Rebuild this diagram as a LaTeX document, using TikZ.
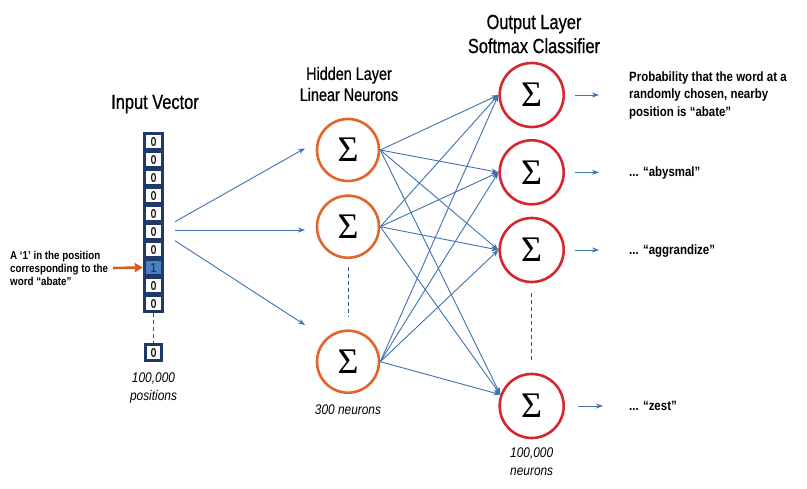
\documentclass[tikz,border=0pt]{standalone}
\usepackage{fontspec}
\setmainfont{Liberation Sans}[FakeStretch=0.85]
\newfontfamily\titlefont{Liberation Sans}[FakeStretch=0.8, FakeBold=0.6]
\newfontfamily\sigfont{Liberation Serif}
\usetikzlibrary{arrows.meta}
\definecolor{navy}{HTML}{1F3A68}
\definecolor{cellblue}{HTML}{4A7FC0}
\definecolor{horange}{HTML}{E2652B}
\definecolor{ored}{HTML}{D7262F}
\definecolor{lblue}{HTML}{3F72AF}
\definecolor{dblue}{HTML}{2F5597}
\definecolor{aorange}{HTML}{E05A1E}
\tikzset{
  cell/.style={fill=white, minimum width=15pt, minimum height=12.5pt, inner sep=0pt, font=\titlefont\fontsize{12.5}{12.5}\selectfont},
  hid/.style={circle, draw=horange, line width=2.6pt, minimum size=62pt, inner sep=0pt, font=\sigfont\fontsize{36}{36}\selectfont},
  outn/.style={circle, draw=ored, line width=2.6pt, minimum size=64pt, inner sep=0pt, font=\sigfont\fontsize{36}{36}\selectfont},
  conn/.style={lblue, line width=0.9pt, -{Stealth[length=7pt,width=5pt]}},
  dots/.style={line width=0.9pt, dash pattern=on 4pt off 3pt},
  title/.style={align=center, inner sep=0pt},
  italab/.style={align=center, inner sep=0pt, font=\itshape\fontsize{14}{18}\selectfont},
  rlab/.style={anchor=west, align=left, inner sep=0pt, font=\bfseries\fontsize{13.5}{17.5}\selectfont},
}
\begin{document}
\begin{tikzpicture}[x=1pt,y=-1pt]
\useasboundingbox[fill=white] (0,0) rectangle (807,488);

% titles
\node[title, font=\titlefont\fontsize{20.5}{24}\selectfont] (tin) at (155,104) {Input Vector};
\node[title, font=\titlefont\fontsize{18}{21}\selectfont] (thid) at (349,84) {Hidden Layer\\Linear Neurons};
\node[title, font=\titlefont\fontsize{20.5}{24}\selectfont] (tout) at (534,34) {Output Layer\\Softmax Classifier};

% input vector
\node[fill=navy, minimum width=21pt, minimum height=181pt, inner sep=0pt] (vec) at (153.5,222.5) {};
\node[cell] (c0) at (153.5,141.5) {0};
\node[cell] (c1) at (153.5,159.5) {0};
\node[cell] (c2) at (153.5,177.5) {0};
\node[cell] (c3) at (153.5,195.5) {0};
\node[cell] (c4) at (153.5,213.5) {0};
\node[cell] (c5) at (153.5,231.5) {0};
\node[cell] (c6) at (153.5,249.5) {0};
\node[cell, fill=cellblue, text=navy] (c7) at (153.5,267.5) {1};
\node[cell] (c8) at (153.5,285.5) {0};
\node[cell] (c9) at (153.5,303.5) {0};
\node[fill=navy, minimum size=19pt, inner sep=0pt] (vecz) at (153.5,352.5) {};
\node[cell, minimum height=12.5pt, minimum width=13pt] (cz) at (153.5,352.5) {0};
\draw[dblue, dots] (vec.south) -- (vecz.north);

\node[italab] (tpos) at (153.5,388) {100,000\\positions};

% left label + orange arrow
\node[anchor=west, align=left, inner sep=0pt, font=\bfseries\fontsize{11.5}{13}\selectfont] (lab) at (10,268.5) {A ‘1’ in the position\\corresponding to the\\word “abate”};
\coordinate (la) at (113,268);
\draw[aorange, line width=2.6pt, -{Triangle[length=8pt,width=9pt]}] (la) -- (c7.west -| vec.west);

% hidden layer
\node[hid] (h1) at (348,150) {Σ};
\node[hid] (h2) at (348,226.7) {Σ};
\node[hid] (h3) at (348,361.7) {Σ};
\draw[dblue, dots] (348,266.7) -- (348,316.7);
\node[italab] (t300) at (348,410) {300 neurons};

% input arrows
\coordinate (a1) at (175,221.7);
\coordinate (a2) at (175,230);
\coordinate (a3) at (175,240.7);
\coordinate (e1) at (305,148.3);
\coordinate (e2) at (305,230);
\coordinate (e3) at (305,325);
\draw[conn] (a1) -- (e1);
\draw[conn] (a2) -- (e2);
\draw[conn] (a3) -- (e3);

% output layer
\node[outn] (o1) at (531.7,95) {Σ};
\node[outn] (o2) at (531.7,172.3) {Σ};
\node[outn] (o3) at (531.7,250) {Σ};
\node[outn] (o4) at (531.7,406) {Σ};
\draw[dblue, dots] (531.7,293) -- (531.7,361.7);
\node[italab] (tout2) at (531.7,462) {100,000\\neurons};

% hidden -> output
\foreach \h in {h1,h2,h3}{
  \draw[conn] (\h.east) -- (o1.west);
  \draw[conn] (\h.east) -- (o2.west);
  \draw[conn] (\h.east) -- (o3.west);
  \draw[conn] (\h.east) -- (o4.160);
}

% output labels
\node[rlab] (l1) at (629,95.5) {Probability that the word at a\\randomly chosen, nearby\\position is “abate”};
\node[rlab] (l2) at (629,173) {... “abysmal”};
\node[rlab] (l3) at (629,251) {... “aggrandize”};
\node[rlab] (l4) at (629,406) {... “zest”};
\draw[conn, shorten <=10pt, shorten >=30pt] (o1.east) -- (o1.east -| l1.west);
\draw[conn, shorten <=10pt, shorten >=30pt] (o2.east) -- (o2.east -| l2.west);
\draw[conn, shorten <=10pt, shorten >=30pt] (o3.east) -- (o3.east -| l3.west);
\draw[conn, shorten <=13pt, shorten >=26pt] (o4.east) -- (o4.east -| l4.west);
\end{tikzpicture}
\end{document}
